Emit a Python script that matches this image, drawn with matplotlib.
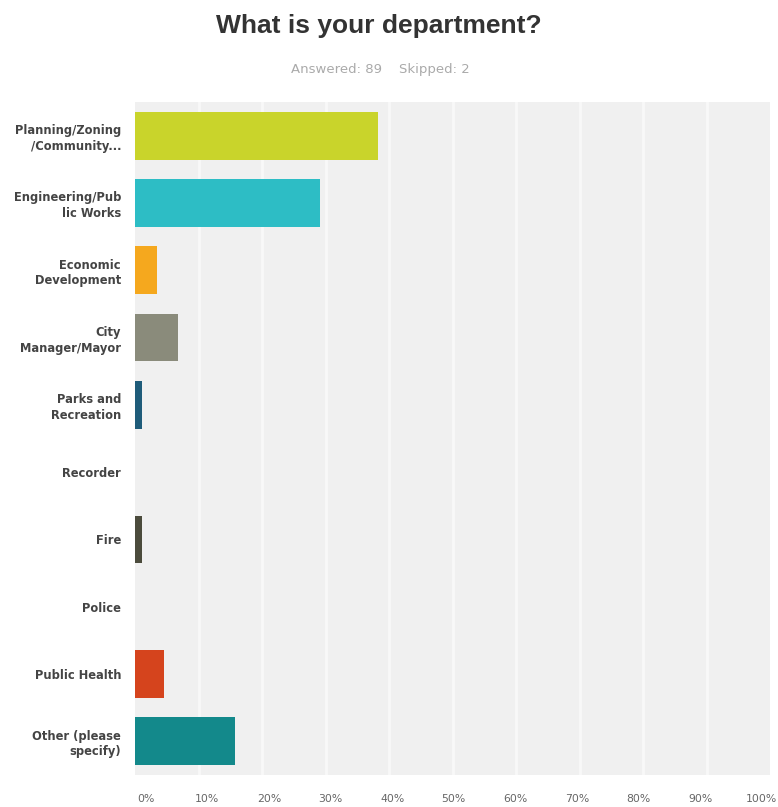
import matplotlib
matplotlib.use('Agg')
import matplotlib.pyplot as plt

plt.rcParams['font.family'] = ['DejaVu Sans']

departments = ['Planning/Zoning\n/Community...', 'Engineering/Pub\nlic Works', 'Economic\nDevelopment',
               'City\nManager/Mayor', 'Parks and\nRecreation', 'Recorder', 'Fire', 'Police',
               'Public Health', 'Other (please\nspecify)']
percents = [38.2, 29.2, 3.4, 6.7, 1.1, 0.0, 1.1, 0.0, 4.5, 15.7]
colors = ['#c9d42b', '#2dbdc5', '#f5a81e', '#8a8b7b', '#1f5c7a', '#555555', '#4b4b3c', '#555555',
          '#d5441d', '#13898b']
tick_vals = list(range(0, 101, 10))
tick_labels = [str(t) + '%' for t in tick_vals]

fig = plt.figure(figsize=(7.78, 8.07), dpi=100)
ax = fig.add_axes([135/778, 1 - 775/807, 635/778, 673/807])
ax.set_facecolor('#f0f0f0')

ypos = range(len(departments))
ax.barh(ypos, percents, height=0.71, color=colors, zorder=3)

# gridlines at the real tick values, labels spread slightly narrower like the original
for t in tick_vals[1:-1]:
    ax.axvline(t, color='#f8f8f8', linewidth=2, zorder=0)

ax.set_xlim(0, 100)
ax.set_ylim(len(departments) - 0.5, -0.5)
ax.set_xticks([1.7 + 0.97 * t for t in tick_vals])
ax.set_xticklabels(tick_labels, fontsize=7.8, color='#666666')
ax.set_yticks(list(ypos))
ax.set_yticklabels(departments, fontsize=8.3, fontweight='bold', color='#444444', linespacing=1.25)
ax.tick_params(length=0)
ax.tick_params(axis='x', pad=14)
ax.tick_params(axis='y', pad=10)
for s in ax.spines.values():
    s.set_visible(False)

fig.text(0.487, 1 - 26/807, 'What is your department?', ha='center', va='center',
         fontsize=19, fontweight='bold', color='#333333', family='Liberation Sans')
fig.text(0.489, 1 - 70/807, 'Answered: 89    Skipped: 2', ha='center', va='center',
         fontsize=9.5, color='#aaaaaa')

plt.savefig('out.png', dpi=100)
